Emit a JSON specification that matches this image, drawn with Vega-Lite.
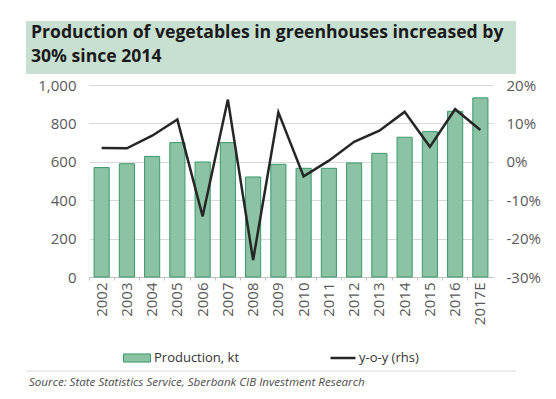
{
  "$schema": "https://vega.github.io/schema/vega-lite/v6.json",
  "padding": {"left": 25, "top": 21, "right": 5, "bottom": 5},
  "spacing": 4,
  "config": {
    "font": "Open Sans",
    "view": {"stroke": null},
    "axis": {"labelFont": "Open Sans", "labelColor": "#595959", "labelFontSize": 15}
  },
  "datasets": {
    "veg": [
      {"year": "2002", "production": 570, "yoy": 3.6},
      {"year": "2003", "production": 590, "yoy": 3.5},
      {"year": "2004", "production": 628, "yoy": 6.8},
      {"year": "2005", "production": 700, "yoy": 11.0},
      {"year": "2006", "production": 599, "yoy": -14.2},
      {"year": "2007", "production": 700, "yoy": 16.2},
      {"year": "2008", "production": 521, "yoy": -25.6},
      {"year": "2009", "production": 587, "yoy": 12.9},
      {"year": "2010", "production": 566, "yoy": -3.8},
      {"year": "2011", "production": 566, "yoy": 0.3},
      {"year": "2012", "production": 594, "yoy": 5.2},
      {"year": "2013", "production": 644, "yoy": 8.1},
      {"year": "2014", "production": 728, "yoy": 13.0},
      {"year": "2015", "production": 757, "yoy": 3.9},
      {"year": "2016", "production": 863, "yoy": 13.7},
      {"year": "2017E", "production": 933, "yoy": 8.3}
    ]
  },
  "vconcat": [
    {
      "width": 404,
      "height": 53,
      "data": {"values": [{"t": ["Production of vegetables in greenhouses increased by", "30% since 2014"]}]},
      "layer": [
        {
          "mark": {"type": "rect", "color": "#c8e0d2"},
          "encoding": {"x": {"value": -63}, "x2": {"value": 427}, "y": {"value": 0}, "y2": {"value": 53}}
        },
        {
          "mark": {"type": "text", "align": "left", "baseline": "alphabetic", "font": "Open Sans", "fontWeight": "bold", "fontSize": 17.6, "color": "#1a1a1a", "lineHeight": 24},
          "encoding": {"text": {"field": "t"}, "x": {"value": -58}, "y": {"value": 17}}
        }
      ]
    },
    {
      "width": 404,
      "height": 192,
      "data": {"name": "veg"},
      "encoding": {
        "x": {
          "field": "year", "type": "ordinal", "sort": null,
          "scale": {"paddingInner": 0, "paddingOuter": 0},
          "axis": {"title": null, "labelAngle": -90, "bandPosition": 0, "tickSize": 3, "tickColor": "#bfbfbf", "domainColor": "#bfbfbf", "labelPadding": 2, "grid": false}
        }
      },
      "layer": [
        {
          "mark": {"type": "bar", "width": {"band": 0.6}, "stroke": "#3b9a6a", "strokeWidth": 1},
          "encoding": {
            "y": {
              "field": "production", "type": "quantitative",
              "scale": {"domain": [0, 1000], "nice": false},
              "axis": {"title": null, "values": [0, 200, 400, 600, 800, 1000], "ticks": false, "domain": false, "labelPadding": 13, "minExtent": 63, "gridColor": "#d9d9d9"}
            },
            "fill": {
              "datum": "Production, kt",
              "scale": {"range": ["#8cc3a4"]},
              "legend": {"title": null, "orient": "none", "legendX": 34, "legendY": 323, "symbolType": "M-1,-0.3H1V0.3H-1Z", "symbolSize": 729, "symbolStrokeColor": "#3b9a6a", "symbolStrokeWidth": 1, "labelFont": "Open Sans", "labelFontSize": 13, "labelColor": "#333333", "labelOffset": 3}
            }
          }
        },
        {
          "mark": {"type": "line", "strokeWidth": 2.5},
          "encoding": {
            "y": {
              "field": "yoy", "type": "quantitative",
              "scale": {"domain": [-30, 20], "nice": false},
              "axis": {"title": null, "orient": "right", "values": [-30, -20, -10, 0, 10, 20], "labelExpr": "datum.value + '%'", "ticks": false, "domain": false, "grid": false, "labelPadding": 13}
            },
            "stroke": {
              "datum": "y-o-y (rhs)",
              "scale": {"range": ["#262626"]},
              "legend": {"title": null, "orient": "none", "legendX": 240, "legendY": 323, "symbolSize": 625, "symbolStrokeWidth": 2.5, "labelFont": "Open Sans", "labelFontSize": 13, "labelColor": "#333333", "labelOffset": 2}
            }
          }
        }
      ],
      "resolve": {"scale": {"y": "independent"}}
    },
    {
      "width": 404,
      "height": 60,
      "data": {"values": [{"s": "Source: State Statistics Service, Sberbank CIB Investment Research"}]},
      "layer": [
        {
          "mark": {"type": "rule", "color": "#d9d9d9", "strokeWidth": 1},
          "encoding": {"x": {"value": -63}, "x2": {"value": 427}, "y": {"value": 42}}
        },
        {
          "mark": {"type": "text", "align": "left", "baseline": "alphabetic", "font": "Open Sans", "fontStyle": "italic", "fontSize": 11.6, "color": "#4d4d4d"},
          "encoding": {"text": {"field": "s"}, "x": {"value": -60}, "y": {"value": 57}}
        }
      ]
    }
  ]
}
